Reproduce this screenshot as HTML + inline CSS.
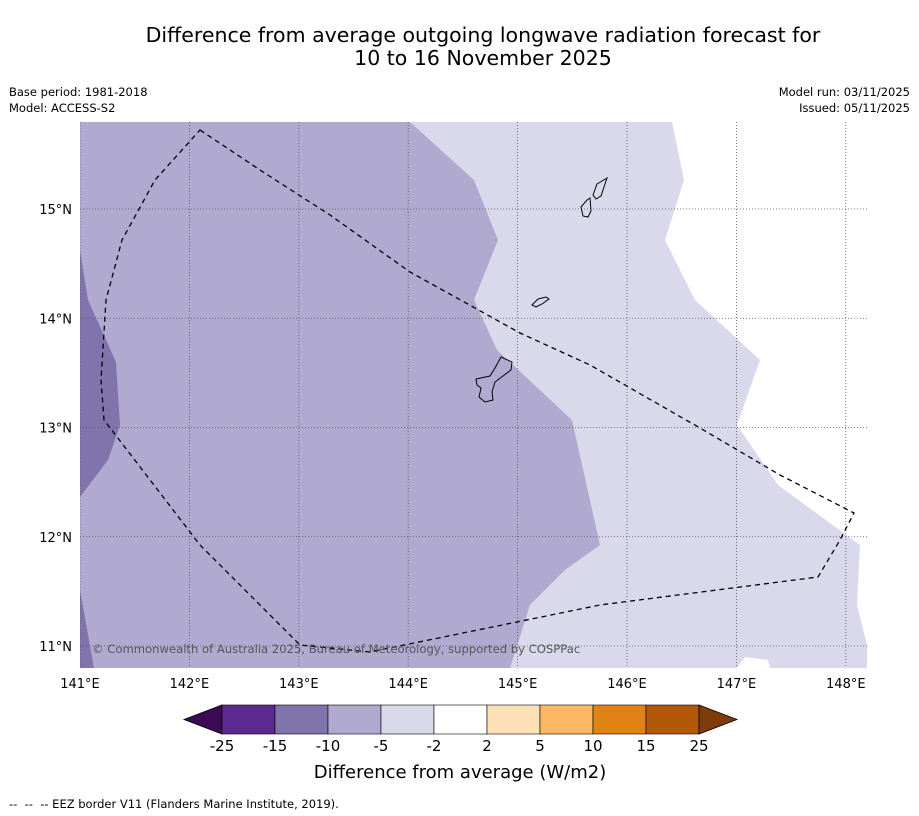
<!DOCTYPE html>
<html><head><meta charset="utf-8"><style>
body{margin:0;background:#fff;width:919px;height:816px;overflow:hidden;font-family:"DejaVu Sans","Liberation Sans",sans-serif}
svg{position:absolute;left:0;top:0;font-family:"DejaVu Sans","Liberation Sans",sans-serif}
</style></head><body>
<svg id="chart" width="919" height="816">
<text x="483" y="42" font-size="20.5" text-anchor="middle">Difference from average outgoing longwave radiation forecast for</text>
<text x="483" y="65" font-size="20.5" text-anchor="middle">10 to 16 November 2025</text>
<text x="9" y="96" font-size="11.5">Base period: 1981-2018</text>
<text x="9" y="112" font-size="11.5">Model: ACCESS-S2</text>
<text x="910" y="96" font-size="11.5" text-anchor="end">Model run: 03/11/2025</text>
<text x="910" y="112" font-size="11.5" text-anchor="end">Issued: 05/11/2025</text>
<defs><clipPath id="mapclip"><rect x="80" y="122" width="787" height="546"/></clipPath></defs>
<g clip-path="url(#mapclip)">
<rect x="80" y="122" width="787" height="546" fill="#ffffff"/>
<path fill="#d9d9eb" d="M80,122 L672,122 L684,180 L665,240 L695,300 L760,360 L737,425 L778,485 L860,545 L857,605 L867,645 L867,668 L770,668 L768,660 L745,657 L737,668 L80,668Z"/>
<path fill="#b0aad1" d="M80,122 L410,122 L474,180 L498,240 L474,300 L497,350 L572,420 L600,545 L565,570 L530,605 L510,668 L80,668Z"/>
<path fill="#8174ad" d="M80,250 L88,300 L116,362 L120,425 L108,460 L80,497Z M80,590 L94,668 L80,668Z"/>
<g id="grid" stroke="#555" stroke-width="0.8" stroke-dasharray="1,2" fill="none"></g>
<path fill="none" stroke="#000" stroke-width="1" d="M501,357 L512,362 L511,370 L495,382 L492,392 L493,400 L485,402 L479,397 L481,388 L477,385 L476,379 L490,376 L495,368Z"/>
<path fill="none" stroke="#000" stroke-width="1" d="M532,305 L538,299 L546,297 L549,299 L542,304 L536,307Z"/>
<path fill="none" stroke="#000" stroke-width="1" d="M587,200 L590,198 L591,211 L588,217 L583,216 L581,207Z"/>
<path fill="none" stroke="#000" stroke-width="1" d="M597,184 L607,178 L603,190 L601,196 L596,199 L593,195Z"/>
<path fill="none" stroke="#000" stroke-width="1.3" stroke-dasharray="5,4" d="M200,130 L260,170 L330,215 L410,272 L520,333 L590,365 L700,428 L780,475 L854,513 L840,540 L818,577 L600,605 L370,652 L300,645 L200,545 L104,420 L101,380 L106,300 L122,240 L155,180 Z"/>
<text x="92" y="653" font-size="11.6" fill="#555">© Commonwealth of Australia 2025, Bureau of Meteorology, supported by COSPPac</text>
</g>
<g id="axes" font-size="13"></g>
<g id="cbar"></g>
<text x="460" y="778" font-size="18" text-anchor="middle">Difference from average (W/m2)</text>
<text x="9" y="808" font-size="11.5" xml:space="preserve">--  --  -- EEZ border V11 (Flanders Marine Institute, 2019).</text>
</svg>
<script>
const lonTicks=[141,142,143,144,145,146,147,148];
const latTicks=[11,12,13,14,15];
const cbBounds=[-25,-15,-10,-5,-2,2,5,10,15,25];
const cbColors=["#5b2a8e","#8174ad","#b0aad1","#d9d9eb","#ffffff","#fee0b6","#fdb863","#e08214","#b35806"];
const cbUnder="#3b0a55", cbOver="#7f3b08";
const NS="http://www.w3.org/2000/svg";
function xLon(l){return 80+(l-141)*109.4;}
function yLat(l){return 209+(15-l)*109.25;}
function mk(t,a,p){const e=document.createElementNS(NS,t);for(const k in a)e.setAttribute(k,a[k]);p.appendChild(e);return e;}
const grid=document.getElementById('grid'),axes=document.getElementById('axes'),cb=document.getElementById('cbar');
lonTicks.forEach(l=>{const x=xLon(l);
 const g=mk('line',{x1:x,x2:x,y1:122,y2:668},grid);
 
 
 const t=mk('text',{x:x,y:688,'text-anchor':'middle'},axes);t.textContent=l+'°E';
 
 });
latTicks.forEach(l=>{const y=yLat(l);
 const g=mk('line',{x1:80,x2:867,y1:y,y2:y},grid);
 
 
 const t=mk('text',{x:72,y:y+5,'text-anchor':'end'},axes);t.textContent=l+'°N';
 
 });
const cx0=222,cw=53,cy=705,ch=29;
const u=mk('polygon',{points:`184,${cy+ch/2} ${cx0},${cy} ${cx0},${cy+ch}`,fill:cbUnder,stroke:'#000','stroke-width':0.8},cb);


cbColors.forEach((c,i)=>{const r=mk('rect',{x:cx0+i*cw,y:cy,width:cw,height:ch,fill:c,stroke:'#000','stroke-width':0.6},cb);
 
 });
const xe=cx0+cbColors.length*cw;
const o=mk('polygon',{points:`${xe},${cy} ${xe+38},${cy+ch/2} ${xe},${cy+ch}`,fill:cbOver,stroke:'#000','stroke-width':0.8},cb);


cbBounds.forEach((b,i)=>{const t=mk('text',{x:cx0+i*cw,y:751,'font-size':15,'text-anchor':'middle'},cb);t.textContent=b;
 
 });
</script>
</body></html>
